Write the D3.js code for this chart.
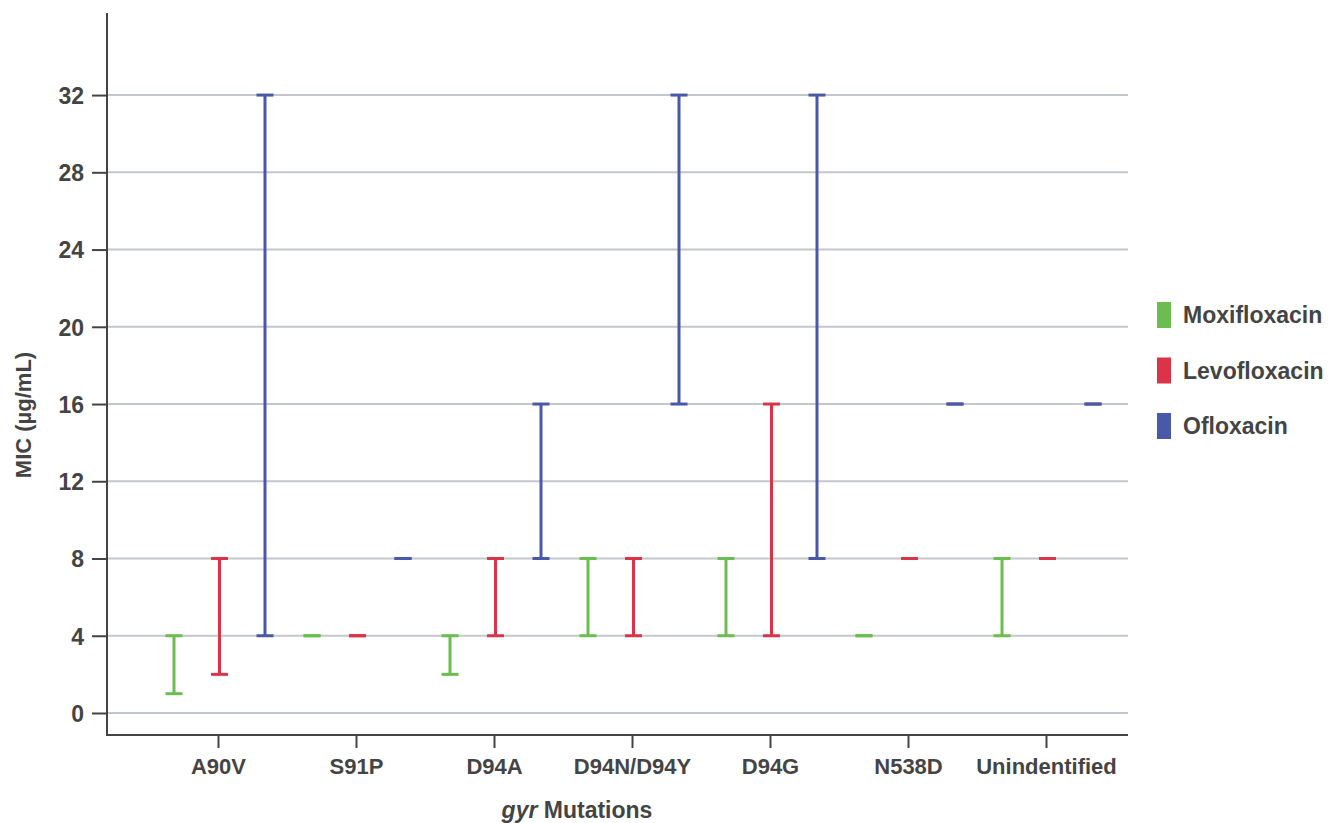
<!DOCTYPE html>
<html><head><meta charset="utf-8">
<script src="https://cdn.jsdelivr.net/npm/d3@7"></script>
<style>
body{margin:0;background:#fff;}
text{font-family:"Liberation Sans",Arial,Helvetica,sans-serif;font-weight:bold;fill:#444;}
</style></head>
<body><svg id="c" width="1338" height="823"></svg>
<script>
const categories = ["A90V","S91P","D94A","D94N/D94Y","D94G","N538D","Unindentified"];
const series = ["Moxifloxacin","Levofloxacin","Ofloxacin"];
const colors = ["#6cbd4f","#dc3349","#4a59a7"];
const moxiLow  = [1,4,2,4,4,4,4];
const moxiHigh = [4,4,4,8,8,4,8];
const levoLow  = [2,4,4,4,4,8,8];
const levoHigh = [8,4,8,8,16,8,8];
const oflxLow  = [4,8,8,16,8,16,16];
const oflxHigh = [32,8,16,32,32,16,16];
const yTicks = [0,4,8,12,16,20,24,28,32];

const lows = [moxiLow, levoLow, oflxLow];
const highs = [moxiHigh, levoHigh, oflxHigh];

const svg = d3.select("#c");
const mL = 107, mR = 1128, mT = 13, mB = 735;

const y = d3.scaleLinear().domain([-1.14, 36.25]).range([mB, mT]);
const x = d3.scalePoint().domain(categories).range([218, 218 + 138*6]);
const xs = d3.scalePoint().domain(series).range([-44, 47]);

// grid
svg.append("g").selectAll("line").data(yTicks).join("line")
  .attr("x1", mL).attr("x2", mR)
  .attr("y1", d => y(d)).attr("y2", d => y(d))
  .attr("stroke", "#c3c6ca").attr("stroke-width", 2);

// y axis
const ya = svg.append("g").attr("transform", `translate(${mL},0)`)
  .call(d3.axisLeft(y).tickValues(yTicks).tickSize(15).tickPadding(8));
ya.select(".domain").remove();
ya.selectAll(".tick line").attr("stroke", "#444").attr("stroke-width", 2);
ya.selectAll(".tick text").style("font-size", "23px").attr("fill", "#444").attr("dy", "0.36em");

// x axis
const xa = svg.append("g").attr("transform", `translate(0,${mB})`)
  .call(d3.axisBottom(x).tickSize(13).tickPadding(10));
xa.select(".domain").remove();
xa.selectAll(".tick line").attr("stroke", "#444").attr("stroke-width", 2);
xa.selectAll(".tick text").style("font-size", "22px").attr("fill", "#444");

// axis lines
svg.append("path").attr("d", `M${mL},${mT}V${mB}H${mR}`)
  .attr("fill", "none").attr("stroke", "#444").attr("stroke-width", 2);

// error bars
const capW = 17;
series.forEach((s, si) => {
  const g = svg.append("g").attr("stroke", colors[si]).attr("stroke-width", 3).attr("fill", "none");
  categories.forEach((c, ci) => {
    const cx = x(c) + xs(s);
    const lo = lows[si][ci], hi = highs[si][ci];
    if (lo !== hi) {
      g.append("line").attr("x1", cx).attr("x2", cx).attr("y1", y(lo)).attr("y2", y(hi));
    }
    g.append("line").attr("x1", cx - capW/2).attr("x2", cx + capW/2).attr("y1", y(hi)).attr("y2", y(hi));
    g.append("line").attr("x1", cx - capW/2).attr("x2", cx + capW/2).attr("y1", y(lo)).attr("y2", y(lo));
  });
});

// axis titles
svg.append("text").attr("transform", `translate(31,415) rotate(-90)`)
  .attr("text-anchor", "middle").style("font-size", "22px").text("MIC (µg/mL)");
const xt = svg.append("text").attr("x", 577).attr("y", 818).attr("text-anchor", "middle").style("font-size", "23px");
xt.append("tspan").style("font-style", "italic").text("gyr");
xt.append("tspan").text(" Mutations");

// legend
const lg = svg.append("g");
series.forEach((s, i) => {
  const yy = 302 + i * 55.5;
  lg.append("rect").attr("x", 1157).attr("y", yy).attr("width", 14).attr("height", 26).attr("fill", colors[i]);
  lg.append("text").attr("x", 1183).attr("y", yy + 21).style("font-size", "23px").text(s);
});
</script></body></html>
